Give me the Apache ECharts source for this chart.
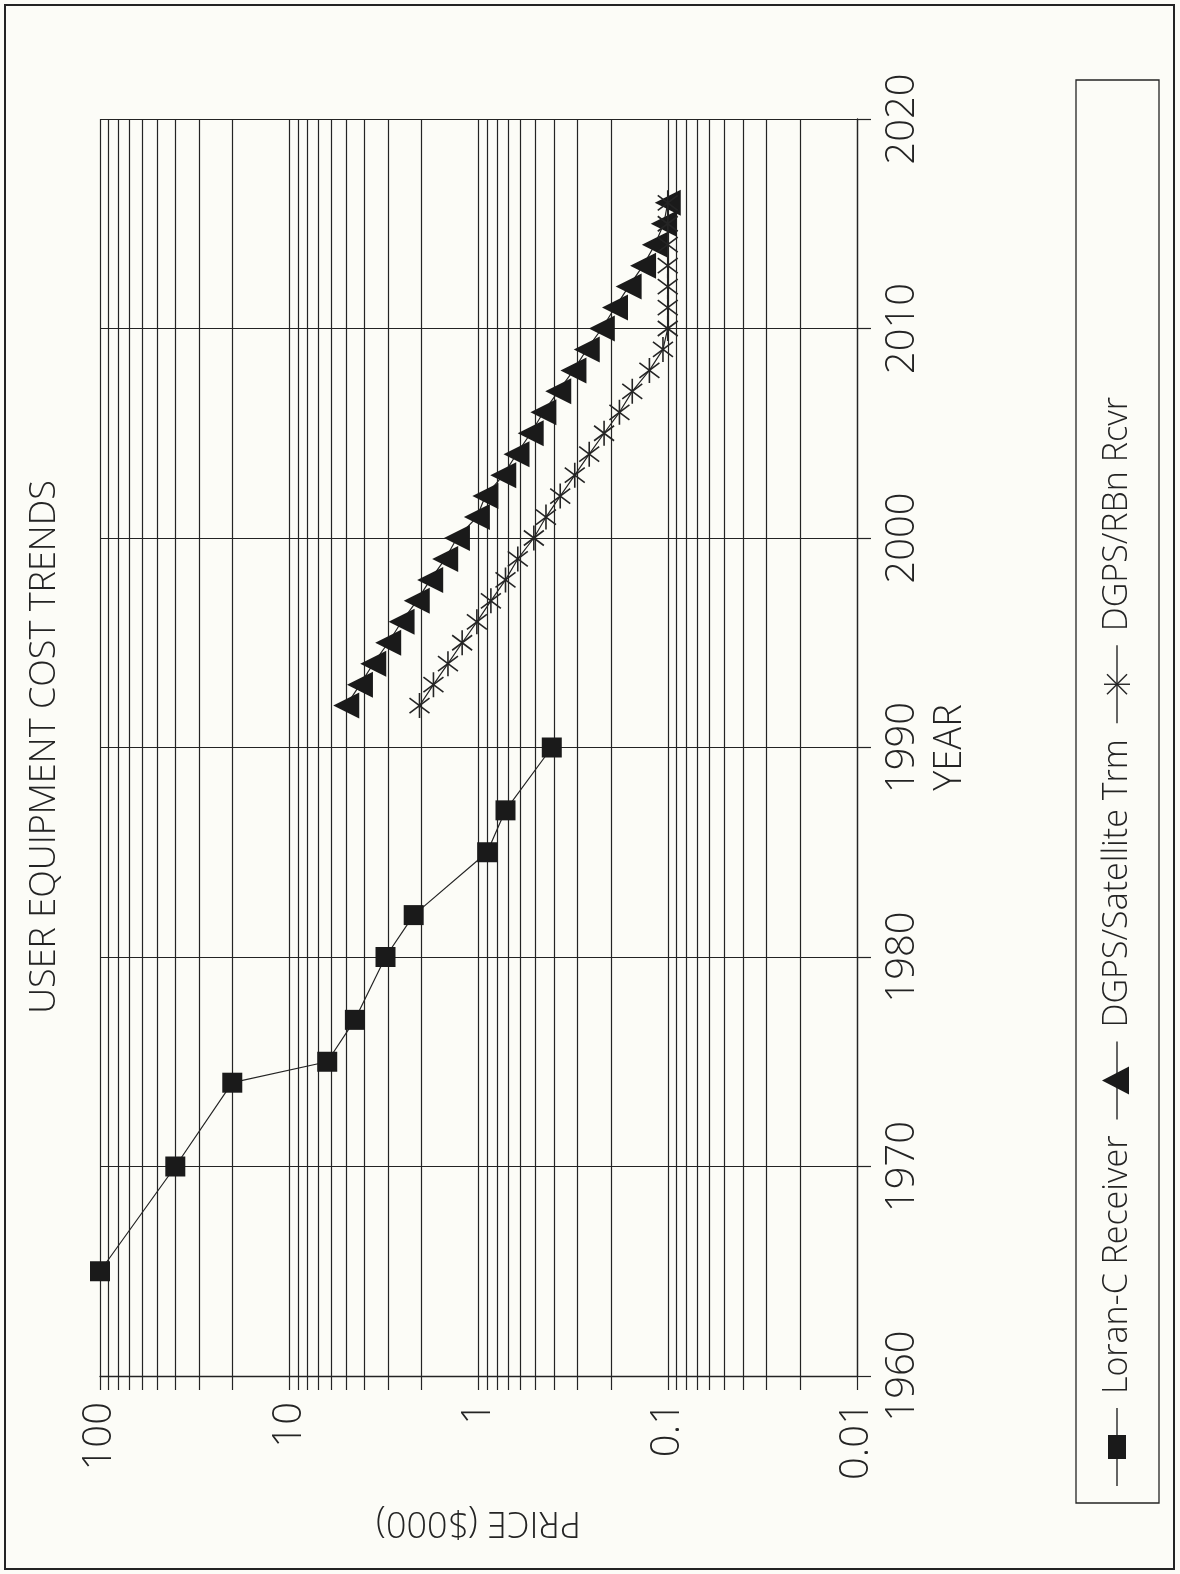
<!DOCTYPE html>
<html><head><meta charset="utf-8">
<script src="https://cdn.jsdelivr.net/npm/echarts@6/dist/echarts.min.js"></script>
<style>html,body{margin:0;padding:0;background:#fcfcf7;} #c{width:1180px;height:1574px;}</style>
</head><body><div id="c"></div>
<script>
// ---- data (x = price in $000, y = year; chart is drawn rotated 90deg) ----
const chartTitle = 'USER EQUIPMENT COST TRENDS';
const seriesNames = ['Loran-C Receiver', 'DGPS/Satellite Trm', 'DGPS/RBn Rcvr'];
const loranYears = [1965, 1970, 1974, 1975, 1977, 1980, 1982, 1985, 1987, 1990];
const loranPrice = [100, 40, 20, 6.3, 4.5, 3.1, 2.2, 0.9, 0.72, 0.41];
const satYears = [1992,1993,1994,1995,1996,1997,1998,1999,2000,2001,2002,2003,2004,2005,2006,2007,2008,2009,2010,2011,2012,2013,2014,2015,2016];
const satPrice = [5.0,4.23,3.6,3.0,2.55,2.12,1.8,1.5,1.3,1.02,0.92,0.74,0.63,0.53,0.454,0.379,0.315,0.268,0.223,0.19,0.161,0.135,0.117,0.105,0.1];
const rbnYears = [1992,1993,1994,1995,1996,1997,1998,1999,2000,2001,2002,2003,2004,2005,2006,2007,2008,2009,2010,2011,2012,2013,2014,2015,2016];
const rbnPrice = [2.05,1.73,1.45,1.22,1.02,0.86,0.72,0.62,0.51,0.44,0.37,0.31,0.26,0.217,0.18,0.154,0.125,0.106,0.1,0.1,0.1,0.1,0.1,0.1,0.1];
const priceMajorTicks = [0.01, 0.1, 1, 10, 100];
const priceMinorMultipliers = [2, 3, 4, 5, 6, 7, 8, 9];
const yearTicks = [1960, 1970, 1980, 1990, 2000, 2010, 2020];

// ---- build ----
const INK = '#242424';
const FONT_FAMILY = "'Open Sans', 'Liberation Sans', 'DejaVu Sans', sans-serif";
const allPriceTicks = [];
priceMajorTicks.forEach((p, i) => {
  allPriceTicks.push(p);
  if (i < priceMajorTicks.length - 1) priceMinorMultipliers.forEach(m => allPriceTicks.push(+(p * m).toPrecision(6)));
});
const fmt = v => String(+(+v).toPrecision(6));
const starPath = 'path://M10,0L10,20M2,4L18,16M2,16L18,4';

const chart = echarts.init(document.getElementById('c'), null, {renderer: 'canvas'});

function textWidth(t, size) {
  const c = document.createElement('canvas').getContext('2d');
  c.font = `300 ${size}px ${FONT_FAMILY}`;
  return c.measureText(t).width;
}
const LEG_X = 1117, LEG_FS = 34, LINE_LEN = 78;
const legendEls = [];
let yCur = 1486;
const seg = (x1, y1, x2, y2) => ({type: 'line', shape: {x1, y1, x2, y2}, style: {stroke: INK, lineWidth: 1.4}, silent: true});
seriesNames.forEach((name, i) => {
  const y0 = yCur, y1 = yCur - LINE_LEN, ym = (y0 + y1) / 2;
  legendEls.push(seg(LEG_X, y0, LEG_X, y1));
  if (i === 0) legendEls.push({type: 'rect', shape: {x: LEG_X - 9, y: ym - 12, width: 18, height: 24}, style: {fill: '#1a1a1a'}, silent: true});
  if (i === 1) legendEls.push({type: 'polygon', shape: {points: [[LEG_X - 15, ym], [LEG_X + 12, ym - 14], [LEG_X + 12, ym + 14]]}, style: {fill: '#1a1a1a'}, silent: true});
  if (i === 2) {
    legendEls.push(seg(LEG_X - 13, ym, LEG_X + 13, ym));
    legendEls.push(seg(LEG_X - 10, ym - 10, LEG_X + 10, ym + 10));
    legendEls.push(seg(LEG_X - 10, ym + 10, LEG_X + 10, ym - 10));
  }
  const ty = y1 - 14;
  legendEls.push({type: 'text', x: LEG_X, y: ty, rotation: Math.PI / 2, silent: true,
    style: {text: name, font: `300 ${LEG_FS}px ${FONT_FAMILY}`, fill: INK, textAlign: 'left', textVerticalAlign: 'middle'}});
  yCur = ty - textWidth(name, LEG_FS) - 16;
});

const option = {
  backgroundColor: '#fcfcf7',
  animation: false,
  grid: {left: 100, right: 323, top: 119, bottom: 198},
  xAxis: {
    type: 'log', logBase: 10, min: 0.01, max: 100, inverse: true, position: 'bottom',
    name: 'PRICE ($000)', nameLocation: 'middle', nameRotate: 180, nameGap: 128,
    nameTextStyle: {fontFamily: FONT_FAMILY, fontWeight: 300, fontSize: 36, color: INK},
    axisLine: {show: true, onZero: false, lineStyle: {color: INK, width: 1.3}},
    axisTick: {show: true, inside: false, length: 14, customValues: allPriceTicks, lineStyle: {color: INK, width: 1.2}},
    axisLabel: {show: true, rotate: 90, margin: 26, customValues: priceMajorTicks, formatter: fmt,
      fontFamily: FONT_FAMILY, fontWeight: 300, fontSize: 40, color: INK},
    splitLine: {show: true, lineStyle: {color: INK, width: 1.2}}
  },
  yAxis: {
    type: 'value', min: 1960, max: 2020, interval: 10, position: 'right',
    name: 'YEAR', nameLocation: 'middle', nameRotate: 90, nameGap: 72,
    nameTextStyle: {fontFamily: FONT_FAMILY, fontWeight: 300, fontSize: 38, color: INK},
    axisLine: {show: true, lineStyle: {color: INK, width: 1.3}},
    axisTick: {show: true, inside: false, length: 14, lineStyle: {color: INK, width: 1.2}},
    axisLabel: {show: true, rotate: 90, margin: 26, formatter: v => String(v),
      fontFamily: FONT_FAMILY, fontWeight: 300, fontSize: 40, color: INK},
    splitLine: {show: true, lineStyle: {color: INK, width: 1.2}}
  },
  graphic: [
    {type: 'rect', shape: {x: 5, y: 5, width: 1169, height: 1564}, style: {fill: 'none', stroke: INK, lineWidth: 2}, silent: true},
    {type: 'rect', shape: {x: 1076, y: 80, width: 83, height: 1423}, style: {fill: 'none', stroke: INK, lineWidth: 1.3}, silent: true},
    {type: 'text', x: 45, y: 747, rotation: Math.PI / 2, silent: true,
      style: {text: chartTitle, font: `300 36px ${FONT_FAMILY}`, fill: INK, textAlign: 'center', textVerticalAlign: 'middle'}},
    ...legendEls
  ],
  series: [
    {name: seriesNames[0], type: 'line', data: loranYears.map((y, i) => [loranPrice[i], y]),
      symbol: 'rect', symbolSize: 20, itemStyle: {color: '#1a1a1a'}, lineStyle: {color: INK, width: 1.2}, z: 3},
    {name: seriesNames[1], type: 'line', data: satYears.map((y, i) => [satPrice[i], y]),
      symbol: 'triangle', symbolRotate: 90, symbolSize: [26, 26], itemStyle: {color: '#1a1a1a'}, lineStyle: {color: INK, width: 1.2}, z: 3},
    {name: seriesNames[2], type: 'line', data: rbnYears.map((y, i) => [rbnPrice[i], y]),
      symbol: starPath, symbolSize: 25, symbolKeepAspect: true,
      itemStyle: {color: 'rgba(0,0,0,0)', borderColor: INK, borderWidth: 1.6}, lineStyle: {color: INK, width: 1.2}, z: 4}
  ]
};
chart.setOption(option);
</script></body></html>
